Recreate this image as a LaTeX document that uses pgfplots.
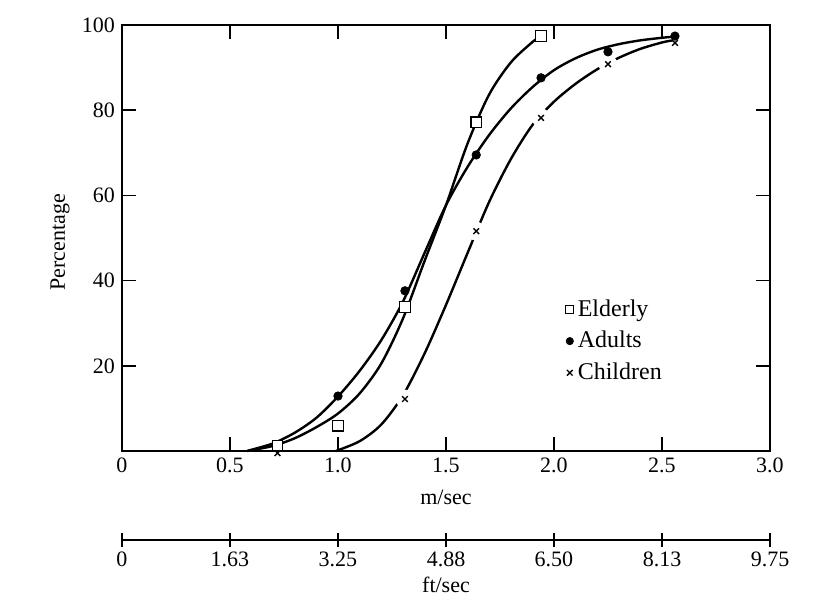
\documentclass[border=0pt]{standalone}
\usepackage{pgfplots}
\pgfplotsset{compat=1.18}
\usepackage{fontspec}
\setmainfont{Liberation Serif}

\begin{document}
\begin{tikzpicture}
\pgfplotsset{
  every axis/.append style={
    scale only axis, width=324pt,
    tick align=inside, major tick length=7pt,
    tick style={black, line width=0.8pt},
    axis line style={line width=0.8pt},
    ticklabel style={font=\fontsize{11}{13}\selectfont},
    label style={font=\fontsize{11}{13}\selectfont},
  },
  curve/.style={black, line width=1.2pt, smooth, tension=0.5, no marks},
}
% main axis: m/sec
\begin{axis}[name=main, at={(0,0)}, anchor=south west, height=213pt,
  xmin=0, xmax=3, ymin=0, ymax=100,
  xtick={0,0.5,1,1.5,2,2.5,3}, xticklabels={0,0.5,1.0,1.5,2.0,2.5,3.0},
  ytick={20,40,60,80,100}, yticklabels={20,40,60,80,100},
  xlabel={m/sec}, ylabel={Percentage},
  xlabel style={at={(axis description cs:0.5,0)}, anchor=center, yshift=-23pt},
  ylabel style={at={(axis description cs:-0.0957,0.49)}, anchor=center},
  legend style={draw=none, fill=none, at={(0.675,0.375)}, anchor=north west,
    font=\fontsize{12}{14}\selectfont, row sep=2pt},
  legend cell align=left, clip=false]
% children fitted curve
\addplot[curve, forget plot] coordinates {
(0.99,0) (1.1,2.3) (1.2,6.2) (1.3,13.0) (1.4,22.8) (1.5,34.3) (1.6,46.5)
(1.7,58.5) (1.8,68.5) (1.9,76.5) (2.0,82.0) (2.1,86.2) (2.2,89.6) (2.3,92.3)
(2.4,94.4) (2.5,95.9) (2.55,96.4)};
% gaps around children marks
\addplot[only marks, mark=*, mark size=4.5pt, white, forget plot] coordinates {
(1.31,12.2) (1.64,51.6) (1.94,78.2) (2.25,90.8)};
% elderly fitted curve
\addplot[curve, forget plot] coordinates {
(0.58,0) (0.6,0.2) (0.7,1.2) (0.8,3.0) (0.9,5.6) (1.0,8.8) (1.1,13.5)
(1.2,20.5) (1.3,31.0) (1.4,44.5) (1.5,57.7) (1.6,72.2) (1.7,83.7)
(1.8,91.2) (1.9,96.0) (1.94,97.4)};
% adults fitted curve
\addplot[curve, forget plot] coordinates {
(0.58,0) (0.6,0.3) (0.7,1.8) (0.8,4.3) (0.9,7.8) (1.0,12.8) (1.1,18.8)
(1.2,26.0) (1.3,35.0) (1.4,46.4) (1.5,57.7) (1.6,66.7) (1.7,74.2)
(1.8,80.4) (1.9,85.4) (2.0,89.4) (2.1,92.2) (2.2,94.2) (2.3,95.5)
(2.4,96.4) (2.5,97.0) (2.56,97.3)};
% observed points
\addplot[only marks, mark=square*, mark size=2.6pt,
  mark options={fill=white, draw=black, line width=0.6pt},
  legend image post style={mark size=2pt}] coordinates {
(0.72,1.3) (1.0,5.9) (1.31,33.8) (1.64,77.2) (1.94,97.4)};
\addplot[only marks, mark=*, mark size=2.1pt, black,
  legend image post style={mark size=1.8pt}] coordinates {
(1.0,12.9) (1.31,37.6) (1.64,69.5) (1.94,87.6) (2.25,93.7) (2.56,97.4)};
\addplot[only marks, mark=x, mark size=2pt, black, line width=0.7pt] coordinates {
(0.72,-0.5) (1.31,12.2) (1.64,51.6) (1.94,78.2) (2.25,90.8) (2.56,95.8)};
\legend{Elderly, Adults, Children}
\end{axis}
% secondary axis: ft/sec
\begin{axis}[at={(0pt,-44.5pt)}, anchor=south west, height=10pt,
  xmin=0, xmax=9.75, ymin=0, ymax=1,
  axis x line=bottom, axis y line=none, x axis line style={-},
  xtick={0,1.625,3.25,4.875,6.5,8.125,9.75},
  xticklabels={0,1.63,3.25,4.88,6.50,8.13,9.75},
  xticklabel style={yshift=1pt},
  xlabel={ft/sec},
  xlabel style={at={(axis description cs:0.5,0)}, anchor=center, yshift=-22.5pt}]
\addplot[draw=none] coordinates {(0,0)};
\end{axis}
\pgfresetboundingbox
\path (-61pt,-75.5pt) rectangle (357pt,225.5pt);
\end{tikzpicture}
\end{document}
